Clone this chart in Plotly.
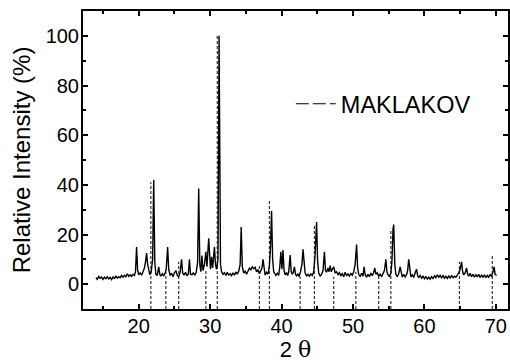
import plotly.graph_objects as go

# Measured XRD pattern (2-theta, relative intensity %)
two_theta = [
    14.0, 14.2, 14.4, 14.6, 14.8, 15.0, 15.2, 15.4, 15.6, 15.8, 16.0, 16.2, 16.4, 16.6, 16.8,
    17.0, 17.2, 17.4, 17.6, 17.8, 18.0, 18.2, 18.4, 18.6, 18.8, 19.0, 19.2, 19.4, 19.55, 19.7,
    19.85, 20.0, 20.2, 20.4, 20.6, 20.8, 20.95, 21.1, 21.25, 21.4, 21.55, 21.75, 21.95, 22.1, 22.25,
    22.4, 22.6, 22.8, 22.95, 23.1, 23.3, 23.5, 23.7, 23.85, 24.05, 24.2, 24.4, 24.6, 24.8, 25.0,
    25.2, 25.4, 25.6, 25.8, 26.0, 26.15, 26.35, 26.55, 26.75, 26.95, 27.1, 27.25, 27.45, 27.65, 27.85,
    28.05, 28.25, 28.4, 28.55, 28.7, 28.85, 29.0, 29.2, 29.4, 29.55, 29.8, 29.95, 30.05, 30.2, 30.35,
    30.6, 30.75, 30.9, 31.1, 31.25, 31.35, 31.45, 31.6, 31.8, 32.0, 32.2, 32.4, 32.6, 32.8, 33.0,
    33.2, 33.4, 33.6, 33.8, 34.0, 34.2, 34.35, 34.5, 34.7, 34.9, 35.1, 35.3, 35.5, 35.7, 35.9,
    36.1, 36.3, 36.5, 36.7, 36.9, 37.1, 37.25, 37.4, 37.55, 37.7, 37.9, 38.1, 38.3, 38.45, 38.6,
    38.75, 38.9, 39.05, 39.2, 39.4, 39.6, 39.75, 39.9, 40.05, 40.2, 40.35, 40.5, 40.7, 40.85, 41.0,
    41.2, 41.35, 41.5, 41.65, 41.8, 41.95, 42.1, 42.3, 42.45, 42.65, 42.85, 43.0, 43.15, 43.3, 43.5,
    43.7, 43.9, 44.1, 44.3, 44.5, 44.7, 44.9, 45.05, 45.2, 45.4, 45.6, 45.8, 46.0, 46.15, 46.3,
    46.5, 46.65, 46.8, 46.95, 47.1, 47.3, 47.5, 47.7, 47.9, 48.1, 48.3, 48.5, 48.7, 48.9, 49.1,
    49.3, 49.5, 49.7, 49.9, 50.1, 50.3, 50.5, 50.65, 50.8, 51.0, 51.2, 51.4, 51.55, 51.7, 51.9,
    52.1, 52.3, 52.5, 52.7, 52.9, 53.05, 53.2, 53.4, 53.6, 53.8, 54.0, 54.2, 54.4, 54.6, 54.75,
    54.9, 55.1, 55.3, 55.45, 55.6, 55.7, 55.85, 56.0, 56.2, 56.4, 56.6, 56.75, 56.9, 57.1, 57.3,
    57.5, 57.65, 57.8, 57.95, 58.1, 58.3, 58.5, 58.7, 58.9, 59.05, 59.2, 59.4, 59.6, 59.8, 60.0,
    60.2, 60.4, 60.6, 60.8, 61.0, 61.2, 61.4, 61.6, 61.8, 62.0, 62.2, 62.4, 62.6, 62.8, 63.0,
    63.2, 63.4, 63.6, 63.8, 64.0, 64.2, 64.4, 64.6, 64.8, 65.0, 65.2, 65.35, 65.5, 65.7, 65.9,
    66.05, 66.2, 66.4, 66.6, 66.8, 67.0, 67.2, 67.4, 67.6, 67.8, 68.0, 68.2, 68.4, 68.6, 68.8,
    69.0, 69.2, 69.4, 69.6, 69.75, 69.9, 70.1,
]
intensity = [
    2.6, 2.0, 3.1, 2.4, 2.9, 1.9, 2.8, 2.2, 3.0, 2.1, 2.7, 1.8, 2.9, 2.3, 3.2,
    2.4, 3.0, 2.6, 3.5, 2.8, 3.6, 3.0, 4.2, 3.2, 3.8, 3.1, 4.0, 3.5, 5.0, 15.0,
    5.5, 3.8, 4.5, 3.6, 5.0, 6.5, 9.0, 12.5, 8.0, 5.0, 3.8, 5.0, 10.0, 42.0, 9.0,
    4.0, 3.5, 7.0, 4.0, 3.2, 4.2, 3.4, 4.5, 6.0, 15.0, 6.0, 3.5, 4.4, 3.0, 4.6,
    5.5, 3.5, 3.1, 4.8, 10.0, 4.5, 3.6, 4.8, 3.4, 4.2, 10.0, 4.0, 3.8, 4.5, 3.6,
    4.8, 9.0, 38.5, 8.0, 5.0, 11.5, 5.5, 8.0, 13.0, 7.0, 18.5, 8.0, 6.0, 11.0, 6.5,
    15.0, 8.0, 6.0, 10.0, 100.0, 60.0, 8.0, 5.0, 4.0, 4.6, 3.5, 4.8, 3.7, 4.2, 3.4,
    4.6, 3.6, 4.9, 4.0, 5.2, 8.0, 23.0, 7.0, 4.5, 5.2, 4.0, 5.5, 6.5, 5.8, 7.0,
    6.2, 6.8, 5.0, 5.8, 4.2, 5.5, 6.5, 10.0, 5.5, 3.6, 4.8, 4.0, 7.5, 15.0, 29.5,
    10.0, 5.0, 4.0, 3.5, 4.4, 3.6, 7.0, 13.0, 6.0, 13.7, 5.5, 3.8, 4.5, 3.5, 5.0,
    11.7, 5.0, 4.0, 4.8, 7.0, 4.0, 3.4, 4.2, 3.0, 5.0, 8.0, 14.0, 7.0, 4.5, 3.4,
    4.0, 3.2, 4.1, 3.5, 5.0, 12.0, 25.0, 9.0, 4.5, 3.2, 4.0, 5.5, 13.0, 5.5, 4.8,
    6.5, 5.0, 7.5, 5.0, 6.0, 7.0, 4.6, 5.0, 3.8, 4.6, 3.4, 4.2, 3.0, 4.8, 3.5,
    4.1, 3.2, 4.3, 3.6, 5.0, 8.0, 16.0, 6.5, 4.0, 3.0, 4.4, 3.2, 7.0, 3.8, 2.8,
    4.0, 3.0, 4.5, 3.4, 4.8, 6.5, 4.0, 4.6, 3.2, 4.2, 3.0, 4.0, 5.5, 10.0, 5.0,
    3.8, 3.0, 4.5, 9.0, 22.0, 24.0, 8.0, 4.0, 3.0, 4.2, 7.0, 4.0, 2.8, 4.0, 2.9,
    3.8, 5.5, 10.0, 5.0, 3.0, 3.8, 2.7, 4.5, 6.0, 3.5, 2.6, 3.5, 2.4, 3.2, 2.2,
    3.0, 2.1, 2.8, 2.0, 3.0, 2.3, 3.4, 2.6, 3.8, 2.8, 3.6, 2.5, 3.4, 2.4, 3.2,
    2.3, 3.3, 2.5, 3.4, 2.6, 3.2, 2.8, 3.6, 4.5, 6.0, 9.0, 5.0, 3.8, 4.5, 6.5,
    4.0, 3.2, 4.4, 3.0, 4.0, 2.8, 3.8, 2.9, 4.0, 2.7, 3.6, 2.8, 3.8, 2.6, 3.5,
    2.8, 3.8, 3.2, 5.0, 7.0, 4.0, 3.5,
]

# Reference pattern (MAKLAKOV) line positions and relative intensities
ref_positions = [21.7, 23.8, 25.6, 29.4, 31.0, 36.9, 38.3, 42.6, 44.6, 47.3, 50.4, 53.6, 55.3, 64.9, 69.5]
ref_heights = [41, 5, 9, 6, 100, 7.7, 34, 3, 24, 3, 5, 4, 22, 9, 12]
ref_base = -10

ref_label = "MAKLAKOV"
x_title = "2 <span style='font-family:DejaVu Serif'>θ</span>"
y_title = "Relative Intensity (%)"

ref_x, ref_y = [], []
for p, h in zip(ref_positions, ref_heights):
    ref_x += [p, p, None]
    ref_y += [ref_base, h, None]

fig = go.Figure()
fig.add_trace(go.Scatter(
    x=ref_x, y=ref_y, mode="lines", showlegend=False,
    line=dict(color="#333333", width=1.2, dash="3px,2px"), hoverinfo="skip",
))
fig.add_trace(go.Scatter(
    x=two_theta, y=intensity, mode="lines", showlegend=False,
    line=dict(color="black", width=1.4),
))
fig.add_trace(go.Scatter(
    x=[None], y=[None], mode="lines", name=ref_label,
    line=dict(color="black", width=1.2, dash="13px,4px"),
))

font_family = "Liberation Sans, Arial, sans-serif"
axis_common = dict(
    showline=True, linecolor="black", linewidth=2, mirror="ticks",
    ticks="inside", ticklen=5, tickwidth=1.5, tickcolor="black",
    showgrid=False, zeroline=False,
    tickfont=dict(family=font_family, size=20, color="black"),
    ticklabelstandoff=-2,
)
fig.update_xaxes(
    range=[12.2, 71.7], dtick=10, tick0=0,
    minor=dict(dtick=5, tick0=0, ticks="inside", ticklen=3, tickwidth=1.5, tickcolor="black"),
    title=dict(text=x_title, font=dict(family=font_family, size=22, color="black"), standoff=6),
    **axis_common,
)
fig.update_yaxes(
    range=[-10, 110], dtick=20, tick0=0,
    minor=dict(dtick=10, tick0=0, ticks="inside", ticklen=3, tickwidth=1.5, tickcolor="black"),
    title=dict(text=y_title, font=dict(family=font_family, size=24, color="black"), standoff=8),
    **axis_common,
)
fig.update_layout(
    width=510, height=362,
    margin=dict(l=83, r=2, t=11, b=53, autoexpand=False),
    paper_bgcolor="white", plot_bgcolor="white",
    font=dict(family=font_family, color="black"),
    legend=dict(
        x=0.489, y=0.688, xanchor="left", yanchor="middle",
        bgcolor="rgba(0,0,0,0)", font=dict(family=font_family, size=23.5, color="black"),
        itemwidth=40,
    ),
)
fig.write_html("out.html", config={"displayModeBar": False},
               post_script="document.body.style.margin='0';")
